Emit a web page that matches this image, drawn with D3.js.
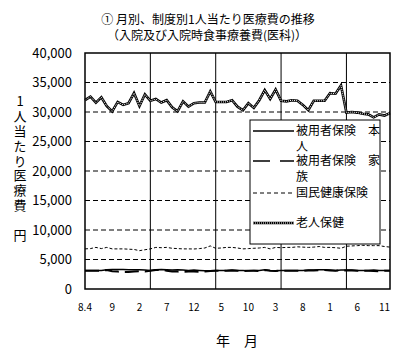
<!DOCTYPE html>
<html>
<head>
<meta charset="utf-8">
<script src="https://cdn.jsdelivr.net/npm/d3@7"></script>
<style>
  body { margin: 0; background: #fff; }
  svg { display: block; font-family: "Noto Sans CJK JP", "Noto Sans", sans-serif; }
</style>
</head>
<body>
<svg id="chart" width="405" height="357"></svg>
<script>
// months H8.4 .. H12.12
var months = [
  "8.4","8.5","8.6","8.7","8.8","8.9","8.10","8.11","8.12",
  "9.1","9.2","9.3","9.4","9.5","9.6","9.7","9.8","9.9","9.10","9.11","9.12",
  "10.1","10.2","10.3","10.4","10.5","10.6","10.7","10.8","10.9","10.10","10.11","10.12",
  "11.1","11.2","11.3","11.4","11.5","11.6","11.7","11.8","11.9","11.10","11.11","11.12",
  "12.1","12.2","12.3","12.4","12.5","12.6","12.7","12.8","12.9","12.10","12.11","12.12"
];
var tickLabels = ["8.4","9","2","7","12","5","10","3","8","1","6","11"];
var yTicks = [0, 5000, 10000, 15000, 20000, 25000, 30000, 35000, 40000];

var honnin = [
  3150,3150,3150,3150,3250,3300,3300,3300,3280,3250,3250,3200,3150,
  3250,3300,3280,3200,3250,3200,3150,3200,3150,3100,3100,3150,
  3150,3150,3200,3150,3150,3100,3150,3150,3250,3150,3100,3150,
  3150,3150,3150,3150,3200,3200,3250,3250,3200,3150,3200,3200,
  3200,3150,3150,3150,3200,3150,3150,3150
];
var kazoku = [
  3100,3100,3100,3100,3200,3000,2950,2900,2900,2950,3000,2950,3100,
  3200,3250,3100,2950,2950,2900,2950,2950,2900,2950,3050,3100,
  3100,3100,3150,3100,3050,3100,3100,3050,3200,3100,3050,3100,
  3100,3100,3100,3100,3150,3150,3200,3200,3150,3100,3150,3150,
  3150,3100,3100,3100,3050,3000,3100,3100
];
var kokuho = [
  6800,6850,7050,6850,7050,6800,6800,6800,6750,6700,6500,6650,6800,
  7050,7000,7050,6900,6850,6800,6800,6780,6850,6950,7300,6900,
  6950,7050,7050,6950,6800,6850,6900,6950,7050,6800,7050,7000,
  7050,7050,7150,7100,7050,7100,7200,7050,7050,7000,6900,7250,
  7300,7350,7400,7350,7350,7350,7200,7100
];
var rojin = [
  32000,32600,31600,32500,31000,30100,31700,31200,31500,33200,31000,33000,31900,
  32200,31600,32000,30800,30100,31800,30900,31500,31600,31600,33500,31700,
  31700,31700,32000,30900,30300,31500,30700,32000,33700,32200,33800,31900,
  31800,32000,31900,31200,30300,31900,31900,31900,33200,33100,34500,29900,
  30000,29900,29700,29600,29100,29600,29400,29800
];

var svg = d3.select("#chart"),
  plotL = 85, plotR = 390, plotT = 53, plotB = 289;

var x = d3.scaleLinear().domain([0, months.length - 1]).range([plotL, plotR]),
  y = d3.scaleLinear().domain([0, 40000]).range([plotB, plotT]);

// titles
svg.append("text").attr("x", 208).attr("y", 24).attr("text-anchor", "middle")
  .attr("font-size", 12).text("① 月別、制度別1人当たり医療費の推移");
svg.append("text").attr("x", 207).attr("y", 40).attr("text-anchor", "middle")
  .attr("font-size", 12).text("（入院及び入院時食事療養費(医科)）");

// gridlines
svg.append("g").selectAll("line")
  .data(yTicks.filter(function(d) { return d > 0 && d < 40000; }))
  .join("line")
  .attr("x1", plotL).attr("x2", plotR)
  .attr("y1", function(d) { return y(d); }).attr("y2", function(d) { return y(d); })
  .attr("stroke", "#000").attr("stroke-dasharray", "5,3");

// year separators (every April)
svg.append("g").selectAll("line")
  .data([12, 24, 36, 48])
  .join("line")
  .attr("x1", function(d) { return x(d); }).attr("x2", function(d) { return x(d); })
  .attr("y1", plotT).attr("y2", plotB)
  .attr("stroke", "#000");

// y labels
svg.append("g").selectAll("text")
  .data(yTicks)
  .join("text")
  .attr("x", 72).attr("y", function(d) { return y(d); })
  .attr("dy", "0.36em").attr("text-anchor", "end").attr("font-size", 13)
  .text(function(d) { return d3.format(",")(d); });

// x labels
svg.append("g").selectAll("text")
  .data(tickLabels)
  .join("text")
  .attr("x", function(d, i) { return x(i * 5); }).attr("y", 311)
  .attr("text-anchor", "middle").attr("font-size", 10)
  .text(function(d) { return d; });

var line = d3.line()
  .x(function(d, i) { return x(i); })
  .y(function(d) { return y(d); });

svg.append("path").datum(kokuho).attr("d", line).attr("fill", "none")
  .attr("stroke", "#000").attr("stroke-width", 1).attr("stroke-dasharray", "3,2");
svg.append("path").datum(kazoku).attr("d", line).attr("fill", "none")
  .attr("stroke", "#000").attr("stroke-width", 2).attr("stroke-dasharray", "14,6");
svg.append("path").datum(honnin).attr("d", line).attr("fill", "none")
  .attr("stroke", "#000").attr("stroke-width", 1.5);
svg.append("path").datum(rojin).attr("d", line).attr("fill", "none")
  .attr("stroke", "#000").attr("stroke-width", 2.6);
svg.append("path").datum(rojin).attr("d", line).attr("fill", "none")
  .attr("stroke", "#fff").attr("stroke-width", 1).attr("stroke-dasharray", "1,1");

// frame
svg.append("rect").attr("x", plotL).attr("y", plotT)
  .attr("width", plotR - plotL).attr("height", plotB - plotT)
  .attr("fill", "none").attr("stroke", "#000").attr("stroke-width", 1.5);

// legend
var lg = svg.append("g");
lg.append("rect").attr("x", 250).attr("y", 120).attr("width", 130).attr("height", 124)
  .attr("fill", "#fff").attr("stroke", "#000");
var items = [
  { lines: ["被用者保険　本", "人"], y: 131, dash: null, w: 1.5 },
  { lines: ["被用者保険　家", "族"], y: 161, dash: "17,10", w: 1.5 },
  { lines: ["国民健康保険"], y: 193, dash: "4,3", w: 1 },
  { lines: ["老人保健"], y: 223, dash: null, w: 2.6, rojin: true }
];
items.forEach(function(it) {
  lg.append("line").attr("x1", 253).attr("x2", 294).attr("y1", it.y).attr("y2", it.y)
    .attr("stroke", "#000").attr("stroke-width", it.w)
    .attr("stroke-dasharray", it.dash);
  if (it.rojin) {
    lg.append("line").attr("x1", 253).attr("x2", 294).attr("y1", it.y).attr("y2", it.y)
      .attr("stroke", "#fff").attr("stroke-width", 1).attr("stroke-dasharray", "1,1");
  }
  it.lines.forEach(function(t, k) {
    lg.append("text").attr("x", 296).attr("y", it.y + k * 16).attr("dy", "0.36em")
      .attr("font-size", 12).text(t);
  });
});

// y axis title, vertical
svg.append("text")
  .attr("x", 20).attr("y", 95)
  .attr("font-size", 13)
  .style("writing-mode", "vertical-rl")
  .style("text-orientation", "upright")
  .style("letter-spacing", "1.8px")
  .text("1人当たり医療費　円");

// x axis title
svg.append("text").attr("x", 237).attr("y", 341).attr("dy", "0.36em")
  .attr("text-anchor", "middle").attr("font-size", 14).text("年　月");
</script>
</body>
</html>
